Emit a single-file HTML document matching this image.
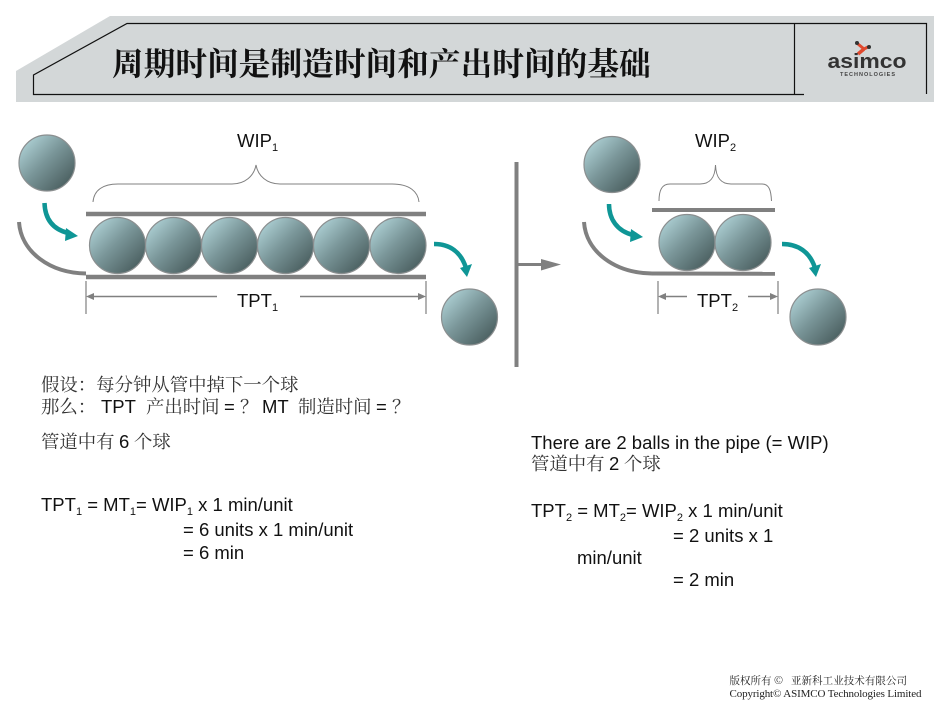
<!DOCTYPE html>
<html><head><meta charset="utf-8"><style>
html,body{margin:0;padding:0;background:#fff;width:950px;height:713px;overflow:hidden}
svg{display:block}
text{font-family:"Liberation Sans","Noto Serif CJK SC",serif;fill:#111}
.t{font-size:18.5px}
.c{font-family:"Noto Serif CJK SC","Liberation Serif",serif;font-size:18.4px;fill:#333}
.s{font-size:11px}
</style></head><body>
<svg width="950" height="713" viewBox="0 0 950 713" xmlns="http://www.w3.org/2000/svg">
<defs>
<linearGradient id="g" x1="0.18" y1="0.12" x2="0.88" y2="0.82">
<stop offset="0" stop-color="#a6c8cc"/><stop offset="0.45" stop-color="#7a9699"/><stop offset="1" stop-color="#4e6364"/>
</linearGradient>
<symbol id="b" viewBox="-29 -29 58 58" overflow="visible"><circle r="28" fill="url(#g)" stroke="#8b8f90" stroke-width="1.2"/></symbol>
</defs>

<polygon points="16,71 110,16 934,16 934,102 16,102" fill="#d3d7d8"/>
<path d="M804,94.5H33.5V75L127,23.5H926.5V94" fill="none" stroke="#111" stroke-width="1.2"/>
<path d="M794.5,24V94" stroke="#111" stroke-width="1.2"/>
<text x="112" y="75" style="font-family:'Noto Serif CJK SC',serif;font-size:31.7px;font-weight:700;fill:#111">周期时间是制造时间和产出时间的基础</text>

<!-- logo -->
<g>
<path d="M858,44L864,49L868,47" fill="none" stroke="#e0492e" stroke-width="3"/>
<path d="M864,49L858,54" stroke="#e0492e" stroke-width="3.5"/>
<circle cx="857" cy="43" r="2" fill="#333"/><circle cx="869" cy="47" r="2" fill="#333"/>
<text x="867" y="68" text-anchor="middle" style="font-size:20px;font-weight:700;fill:#333" textLength="79" lengthAdjust="spacingAndGlyphs">asimco</text>
<text x="867.500" y="76" text-anchor="middle" style="font-size:5.500px;font-weight:700;fill:#444" textLength="55" lengthAdjust="spacing">TECHNOLOGIES</text>
</g>

<!-- left diagram -->
<g stroke="#808080" fill="none">
<path d="M86,214H426" stroke-width="4.5"/>
<path d="M86,277H426" stroke-width="4.5"/>
<path d="M19,222C21,252 50,273 86,273.5" stroke-width="4"/>
<path d="M93,202C94,190 103,184 118,184H232C245,184 254,176 256,165C258,176 267,184 280,184H392C410,184 418,192 419,202" stroke-width="1" />
<path d="M86,281V314M426,281V314" stroke-width="1.2"/>
<path d="M90,296.5H217M300,296.5H422" stroke-width="1.5"/>
</g>
<polygon points="86,296.5 94,293 94,300" fill="#808080"/>
<polygon points="426,296.5 418,293 418,300" fill="#808080"/>

<g>
<use href="#b" x="18" y="134" width="58" height="58"/>
<use href="#b" x="88.500" y="216.500" width="58" height="58"/>
<use href="#b" x="144.500" y="216.500" width="58" height="58"/>
<use href="#b" x="200.500" y="216.500" width="58" height="58"/>
<use href="#b" x="256.500" y="216.500" width="58" height="58"/>
<use href="#b" x="312.500" y="216.500" width="58" height="58"/>
<use href="#b" x="369" y="216.500" width="58" height="58"/>
<use href="#b" x="440.500" y="288" width="58" height="58"/>
<use href="#b" x="583" y="135.500" width="58" height="58"/>
<use href="#b" x="658" y="213.500" width="58" height="58"/>
<use href="#b" x="714" y="213.500" width="58" height="58"/>
<use href="#b" x="789" y="288" width="58" height="58"/>
</g>

<!-- teal arrows -->
<g fill="none" stroke="#0f9696" stroke-width="4.500">
<path d="M44.500,203C45,218 52,229 68,233"/>
<path d="M434,244C450,244 461,252 466,268"/>
<path d="M609,204C609,219 617,231 633,235"/>
<path d="M782,244C798,244 810,252 815,268"/>
</g>
<g fill="#0f9696">
<polygon points="78,236 66,228 65,241"/>
<polygon points="467,277 460,268 472,264"/>
<polygon points="643,237 631,229 630,242"/>
<polygon points="816,277 809,268 821,264"/>
</g>

<!-- divider -->
<path d="M516.500,162V367" stroke="#808080" stroke-width="4"/>
<path d="M518,264.500H543" stroke="#808080" stroke-width="3"/>
<polygon points="541,259 561,264.500 541,270.500" fill="#808080"/>

<!-- right diagram -->
<g stroke="#808080" fill="none">
<path d="M652,210H775" stroke-width="4"/>
<path d="M652,273.500L775,273.800" stroke-width="4"/>
<path d="M584,222C586,252 615,273 652,273.500" stroke-width="4"/>
<path d="M659,201C659,190 662,184 670,184H700C710,184 715,178 715.500,165C716,178 721,184 731,184H762C769,184 771,190 771.500,201" stroke-width="1"/>
<path d="M658,281V314M778,281V314" stroke-width="1.2"/>
<path d="M662,296.500H687M748,296.500H774" stroke-width="1.5"/>
</g>
<polygon points="658,296.500 666,293 666,300" fill="#808080"/>
<polygon points="778,296.500 770,293 770,300" fill="#808080"/>

<!-- diagram labels -->
<text class="t" x="237" y="147">WIP<tspan class="s" dy="4">1</tspan></text>
<text class="t" x="237" y="307">TPT<tspan class="s" dy="4">1</tspan></text>
<text class="t" x="695" y="147">WIP<tspan class="s" dy="4">2</tspan></text>
<text class="t" x="697" y="307">TPT<tspan class="s" dy="4">2</tspan></text>

<!-- body text left -->
<text class="c" x="41" y="391">假设&#xFF1A;每分钟从管中掉下一个球</text>
<text class="c" x="41" y="413">那么&#xFF1A;</text>
<text class="t" x="101" y="413">TPT</text>
<text class="c" x="146" y="413">产出时间</text>
<text class="t" x="224" y="413">=</text>
<text class="c" x="240" y="413">&#xFF1F;</text>
<text class="t" x="262" y="413">MT</text>
<text class="c" x="298" y="413">制造时间</text>
<text class="t" x="376" y="413">=</text>
<text class="c" x="392" y="413">&#xFF1F;</text>

<text class="c" x="41" y="448">管道中有</text>
<text class="t" x="119" y="448">6</text>
<text class="c" x="134" y="448">个球</text>

<text class="t" x="41" y="511">TPT<tspan class="s" dy="4">1</tspan><tspan dy="-4"> = MT</tspan><tspan class="s" dy="4">1</tspan><tspan dy="-4">= WIP</tspan><tspan class="s" dy="4">1</tspan><tspan dy="-4"> x 1 min/unit</tspan></text>
<text class="t" x="183" y="536">= 6 units x 1 min/unit</text>
<text class="t" x="183" y="559">= 6 min</text>

<!-- body text right -->
<text class="t" x="531" y="449">There are 2 balls in the pipe (= WIP)</text>
<text class="c" x="531" y="470">管道中有</text>
<text class="t" x="609" y="470">2</text>
<text class="c" x="624" y="470">个球</text>
<text class="t" x="531" y="517">TPT<tspan class="s" dy="4">2</tspan><tspan dy="-4"> = MT</tspan><tspan class="s" dy="4">2</tspan><tspan dy="-4">= WIP</tspan><tspan class="s" dy="4">2</tspan><tspan dy="-4"> x 1 min/unit</tspan></text>
<text class="t" x="673" y="542">= 2 units x 1</text>
<text class="t" x="577" y="564">min/unit</text>
<text class="t" x="673" y="586">= 2 min</text>

<!-- footer -->
<text x="729.500" y="684" style="font-family:'Noto Serif CJK SC',serif;font-size:10.500px;fill:#222">版权所有 ©</text>
<text x="791" y="684" style="font-family:'Noto Serif CJK SC',serif;font-size:10.500px;fill:#222" textLength="116">亚新科工业技术有限公司</text>
<text x="729.500" y="697" style="font-family:'Liberation Serif',serif;font-size:11px;fill:#222" textLength="192">Copyright© ASIMCO Technologies Limited</text>
</svg>
</body></html>
